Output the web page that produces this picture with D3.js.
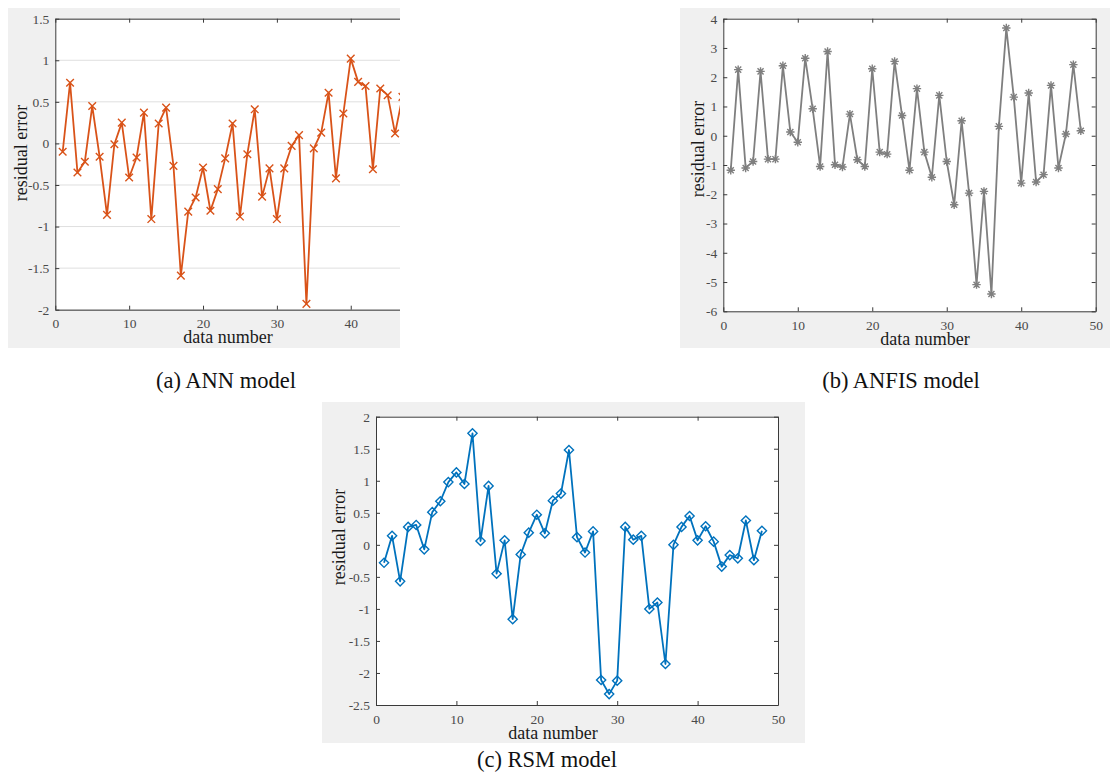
<!DOCTYPE html>
<html>
<head>
<meta charset="utf-8">
<script src="https://cdn.jsdelivr.net/npm/d3@7"></script>
<style>
  body { margin: 0; background: #fff; }
  svg { display: block; font-family: "Liberation Serif", "Times New Roman", serif; }
</style>
</head>
<body>
<div id="chart"></div>
<script>
// ---- data ----
const xTicks = [0, 10, 20, 30, 40, 50];
const annTicks = [-2, -1.5, -1, -0.5, 0, 0.5, 1, 1.5];
const anfisTicks = [-6, -5, -4, -3, -2, -1, 0, 1, 2, 3, 4];
const rsmTicks = [-2.5, -2, -1.5, -1, -0.5, 0, 0.5, 1, 1.5, 2];

// panel (a) is cropped on the right in the source, only the first 47 points show
const annErr = [-0.10, 0.73, -0.35, -0.22, 0.45, -0.16, -0.86, -0.01, 0.25, -0.41,
  -0.17, 0.37, -0.91, 0.24, 0.43, -0.27, -1.59, -0.82, -0.65, -0.29,
  -0.81, -0.55, -0.18, 0.24, -0.88, -0.13, 0.41, -0.64, -0.30, -0.91,
  -0.30, -0.03, 0.10, -1.93, -0.06, 0.13, 0.61, -0.42, 0.36, 1.02,
  0.74, 0.69, -0.31, 0.66, 0.58, 0.12, 0.56];

const anfisErr = [-1.18, 2.26, -1.10, -0.88, 2.20, -0.80, -0.80, 2.39, 0.13, -0.22,
  2.65, 0.92, -1.05, 2.88, -0.99, -1.07, 0.74, -0.82, -1.05, 2.29,
  -0.56, -0.63, 2.54, 0.69, -1.18, 1.61, -0.56, -1.42, 1.38, -0.88,
  -2.36, 0.51, -1.96, -5.09, -1.90, -5.41, 0.32, 3.68, 1.32, -1.62,
  1.46, -1.58, -1.33, 1.72, -1.10, 0.06, 2.43, 0.17];

const rsmErr = [-0.28, 0.14, -0.57, 0.28, 0.31, -0.07, 0.51, 0.68, 0.98, 1.13,
  0.95, 1.74, 0.06, 0.92, -0.45, 0.07, -1.16, -0.15, 0.19, 0.47,
  0.18, 0.69, 0.80, 1.48, 0.12, -0.12, 0.21, -2.11, -2.33, -2.12,
  0.28, 0.08, 0.14, -1.00, -0.90, -1.86, 0.00, 0.28, 0.45, 0.07,
  0.29, 0.05, -0.34, -0.16, -0.21, 0.38, -0.24, 0.22];

const W = 1111, H = 780;
const svg = d3.select('#chart').append('svg')
  .attr('width', W).attr('height', H);

// marker shapes, MATLAB style
function markerPath(type, r) {
  const p = d3.path();
  if (type === 'x') {
    p.moveTo(-r, -r); p.lineTo(r, r);
    p.moveTo(-r, r); p.lineTo(r, -r);
  } else if (type === 'star') {
    p.moveTo(-r, 0); p.lineTo(r, 0);
    p.moveTo(0, -r); p.lineTo(0, r);
    const k = r * 0.72;
    p.moveTo(-k, -k); p.lineTo(k, k);
    p.moveTo(-k, k); p.lineTo(k, -k);
  } else {
    p.moveTo(0, -r); p.lineTo(r, 0); p.lineTo(0, r); p.lineTo(-r, 0); p.closePath();
  }
  return p.toString();
}

const panels = [
  { id: 'a', bg: [8, 8, 392, 340], l: 55.3, t: 18.7, r: 424.6, b: 309.7,
    yTicks: annTicks, data: annErr, color: '#d95319', marker: 'x', mr: 3.8,
    grid: true, xLab: 228, xLabY: 343, yLab: [21, 153],
    caption: '(a) ANN model', capX: 226, capY: 388 },
  { id: 'b', bg: [680, 8, 430, 340], l: 723.3, t: 18.7, r: 1095.7, b: 311.3,
    yTicks: anfisTicks, data: anfisErr, color: '#7f7f7f', marker: 'star', mr: 4.2,
    grid: false, xLab: 925, xLabY: 344.5, yLab: [698, 149],
    caption: '(b) ANFIS model', capX: 901, capY: 388 },
  { id: 'c', bg: [322, 402, 483, 341], l: 376, t: 416.7, r: 778, b: 705,
    yTicks: rsmTicks, data: rsmErr, color: '#0072bd', marker: 'diamond', mr: 4.6,
    grid: false, xLab: 553, xLabY: 738.5, yLab: [339, 537],
    caption: '(c) RSM model', capX: 547, capY: 767 }
];

const defs = svg.append('defs');

panels.forEach(p => {
  const [bx, by, bw, bh] = p.bg;
  defs.append('clipPath').attr('id', 'clip-' + p.id)
    .append('rect').attr('x', bx).attr('y', by).attr('width', bw).attr('height', bh);

  const g = svg.append('g').attr('clip-path', 'url(#clip-' + p.id + ')');

  g.append('rect').attr('x', bx).attr('y', by).attr('width', bw).attr('height', bh)
    .attr('fill', '#f0f0f0');

  const x = d3.scaleLinear().domain([0, 50]).range([p.l, p.r]);
  const y = d3.scaleLinear().domain(d3.extent(p.yTicks)).range([p.b, p.t]);

  // plot area
  g.append('rect').attr('x', p.l).attr('y', p.t)
    .attr('width', p.r - p.l).attr('height', p.b - p.t).attr('fill', '#fff');

  if (p.grid) {
    g.append('g').selectAll('line').data(p.yTicks).join('line')
      .attr('x1', p.l).attr('x2', p.r)
      .attr('y1', d => y(d)).attr('y2', d => y(d))
      .attr('stroke', '#dfdfdf').attr('stroke-width', 1);
  }

  const fmt = d => String(d);
  const styleAxis = sel => {
    sel.attr('font-family', null).attr('font-size', null);
    sel.select('.domain').attr('stroke', '#3a3a3a');
    sel.selectAll('.tick line').attr('stroke', '#3a3a3a');
    sel.selectAll('.tick text').attr('fill', '#4a4a4a').style('font-size', '13.5px');
  };

  // bottom / left with labels
  g.append('g').attr('transform', `translate(0,${p.b})`)
    .call(d3.axisBottom(x).tickValues(xTicks).tickFormat(fmt)
      .tickSizeInner(-4).tickSizeOuter(0).tickPadding(9))
    .call(styleAxis);
  g.append('g').attr('transform', `translate(${p.l},0)`)
    .call(d3.axisLeft(y).tickValues(p.yTicks).tickFormat(fmt)
      .tickSizeInner(-4).tickSizeOuter(0).tickPadding(6))
    .call(styleAxis);
  // top / right box, ticks only
  g.append('g').attr('transform', `translate(0,${p.t})`)
    .call(d3.axisTop(x).tickValues(xTicks).tickFormat('')
      .tickSizeInner(-4).tickSizeOuter(0))
    .call(styleAxis);
  g.append('g').attr('transform', `translate(${p.r},0)`)
    .call(d3.axisRight(y).tickValues(p.yTicks).tickFormat('')
      .tickSizeInner(-4).tickSizeOuter(0))
    .call(styleAxis);

  // series
  const pts = p.data.map((v, i) => ({ n: i + 1, v }));
  const line = d3.line().x(d => x(d.n)).y(d => y(d.v));
  g.append('path').datum(pts).attr('d', line)
    .attr('fill', 'none').attr('stroke', p.color)
    .attr('stroke-width', 1.8).attr('stroke-linejoin', 'round');

  g.append('g').selectAll('path').data(pts).join('path')
    .attr('transform', d => `translate(${x(d.n)},${y(d.v)})`)
    .attr('d', markerPath(p.marker, p.mr))
    .attr('fill', 'none').attr('stroke', p.color).attr('stroke-width', 1.4);

  // axis titles
  g.append('text').attr('x', p.xLab).attr('y', p.xLabY)
    .attr('text-anchor', 'middle').attr('fill', '#1a1a1a')
    .style('font-size', '18px').text('data number');
  g.append('text')
    .attr('transform', `translate(${p.yLab[0]},${p.yLab[1]}) rotate(-90)`)
    .attr('text-anchor', 'middle').attr('dy', '0.35em').attr('fill', '#1a1a1a')
    .style('font-size', '18px').text('residual error');

  // caption under the panel
  svg.append('text').attr('x', p.capX).attr('y', p.capY)
    .attr('text-anchor', 'middle').attr('fill', '#111')
    .style('font-size', '22.5px').text(p.caption);
});
</script>
</body>
</html>
